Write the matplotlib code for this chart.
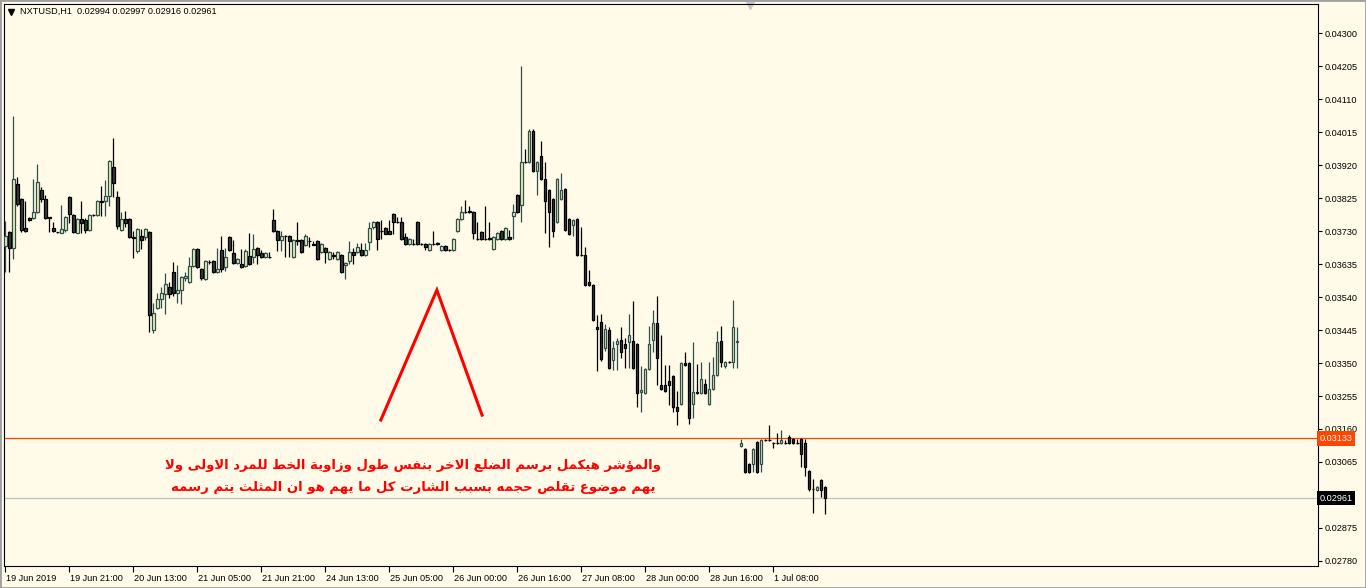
import numpy as np
import matplotlib
matplotlib.use("Agg")
import matplotlib.pyplot as plt
import matplotlib.transforms as mtransforms
from matplotlib.patches import Rectangle

# ---- data (prices in points, 1 point = 0.00001) ----
symbol = "NXTUSD,H1"

open_pts = [
    3687, 3727, 3681, 3865, 3822, 3739, 3767, 3767, 3785, 3848,
    3822, 3770, 3739, 3727, 3724, 3733, 3828, 3776, 3724, 3765,
    3762, 3733, 3776, 3776, 3816, 3816, 3831, 3914, 3828, 3733,
    3765, 3765, 3713, 3672, 3716, 3713, 3727, 3445, 3508, 3534,
    3549, 3569, 3612, 3552, 3560, 3595, 3583, 3629, 3678, 3621,
    3592, 3641, 3644, 3612, 3675, 3626, 3713, 3667, 3638, 3635,
    3629, 3658, 3655, 3681, 3667, 3655, 3656, 3762, 3730, 3704,
    3716, 3716, 3655, 3704, 3704, 3690, 3701, 3693, 3701, 3670,
    3681, 3649, 3661, 3649, 3661, 3632, 3644, 3670, 3670, 3675,
    3661, 3698, 3742, 3756, 3730, 3739, 3730, 3779, 3756, 3756,
    3713, 3693, 3693, 3756, 3693, 3693, 3675, 3693, 3695, 3675,
    3687, 3675, 3675, 3730, 3765, 3785, 3788, 3785, 3707, 3727,
    3707, 3710, 3678, 3707, 3730, 3707, 3713, 3773, 3834, 3805,
    3929, 3929, 4018, 3903, 3946, 3880, 3848, 3822, 3756, 3822,
    3851, 3765, 3747, 3765, 3661, 3661, 3583, 3575, 3454, 3468,
    3393, 3445, 3359, 3405, 3416, 3405, 3410, 3413, 3405, 3267,
    3264, 3333, 3416, 3465, 3287, 3287, 3298, 3313, 3223, 3232,
    3350, 3350, 3232, 3267, 3264, 3290, 3232, 3275, 3315, 3413,
    3341, 3353, 3353, 3410, 3111, 3102, 3059, 3059, 3123, 3059,
    3128, 3128, 3120, 3120, 3120, 3120, 3137, 3131, 3120, 3131,
    3120, 3039, 2988, 2984, 3013, 2994,
]
high_pts = [
    3759, 3730, 4061, 3885, 3825, 3816, 3770, 3880, 3923, 3857,
    3834, 3770, 3756, 3727, 3805, 3773, 3831, 3779, 3767, 3816,
    3767, 3779, 3779, 3819, 3860, 3877, 3934, 3998, 3845, 3785,
    3788, 3767, 3730, 3739, 3736, 3739, 3730, 3523, 3552, 3569,
    3609, 3583, 3641, 3632, 3600, 3612, 3655, 3681, 3681, 3624,
    3647, 3647, 3647, 3681, 3716, 3681, 3716, 3704, 3652, 3678,
    3678, 3724, 3721, 3684, 3675, 3670, 3670, 3793, 3733, 3730,
    3718, 3718, 3707, 3756, 3707, 3721, 3713, 3701, 3704, 3695,
    3684, 3672, 3670, 3672, 3664, 3641, 3701, 3681, 3695, 3695,
    3695, 3756, 3759, 3759, 3762, 3742, 3762, 3782, 3770, 3770,
    3724, 3710, 3707, 3759, 3695, 3695, 3695, 3730, 3698, 3690,
    3690, 3678, 3710, 3767, 3802, 3819, 3802, 3788, 3756, 3730,
    3802, 3756, 3716, 3727, 3733, 3742, 3733, 3808, 3837, 4205,
    3966, 4024, 4024, 3932, 3989, 3929, 3851, 3825, 3883, 3897,
    3854, 3767, 3765, 3767, 3742, 3684, 3618, 3577, 3488, 3491,
    3462, 3454, 3413, 3422, 3454, 3422, 3491, 3528, 3408, 3341,
    3336, 3456, 3503, 3543, 3431, 3344, 3344, 3315, 3269, 3353,
    3382, 3353, 3410, 3347, 3353, 3304, 3353, 3367, 3442, 3456,
    3356, 3356, 3531, 3454, 3131, 3105, 3062, 3105, 3125, 3131,
    3131, 3172, 3123, 3148, 3157, 3128, 3143, 3134, 3131, 3134,
    3131, 3042, 3016, 2996, 3016, 2997,
]
low_pts = [
    3612, 3612, 3649, 3802, 3727, 3727, 3759, 3765, 3782, 3813,
    3765, 3727, 3727, 3724, 3724, 3727, 3753, 3724, 3724, 3724,
    3724, 3730, 3773, 3773, 3773, 3773, 3802, 3828, 3736, 3730,
    3742, 3710, 3652, 3667, 3678, 3704, 3439, 3436, 3505, 3508,
    3491, 3537, 3543, 3523, 3520, 3586, 3580, 3626, 3624, 3589,
    3589, 3635, 3609, 3609, 3612, 3615, 3672, 3635, 3635, 3624,
    3626, 3632, 3638, 3635, 3652, 3652, 3652, 3727, 3672, 3672,
    3655, 3655, 3652, 3690, 3667, 3687, 3684, 3690, 3647, 3667,
    3638, 3647, 3649, 3647, 3609, 3592, 3635, 3635, 3667, 3658,
    3658, 3675, 3736, 3675, 3707, 3721, 3721, 3721, 3753, 3704,
    3690, 3690, 3690, 3690, 3690, 3675, 3672, 3690, 3690, 3672,
    3672, 3672, 3672, 3727, 3762, 3782, 3782, 3707, 3704, 3704,
    3704, 3704, 3675, 3704, 3704, 3704, 3704, 3707, 3782, 3756,
    3926, 3926, 3900, 3834, 3877, 3724, 3684, 3713, 3753, 3819,
    3730, 3718, 3716, 3658, 3658, 3572, 3572, 3471, 3327, 3356,
    3385, 3333, 3330, 3330, 3364, 3336, 3336, 3333, 3223, 3209,
    3261, 3330, 3382, 3287, 3272, 3267, 3229, 3209, 3172, 3229,
    3341, 3174, 3192, 3261, 3261, 3261, 3229, 3272, 3313, 3338,
    3336, 3350, 3336, 3336, 3108, 3033, 3033, 3036, 3033, 3036,
    3125, 3125, 3105, 3117, 3117, 3117, 3117, 3117, 3117, 3051,
    3025, 2982, 2918, 2982, 2964, 2916,
]
close_pts = [
    3716, 3681, 3880, 3808, 3733, 3730, 3762, 3785, 3871, 3822,
    3767, 3767, 3730, 3727, 3736, 3770, 3779, 3727, 3765, 3753,
    3733, 3776, 3776, 3816, 3813, 3831, 3932, 3868, 3744, 3765,
    3753, 3713, 3710, 3736, 3704, 3736, 3488, 3494, 3534, 3552,
    3577, 3549, 3552, 3560, 3598, 3600, 3629, 3678, 3626, 3595,
    3644, 3641, 3612, 3621, 3621, 3655, 3675, 3638, 3649, 3626,
    3672, 3635, 3678, 3661, 3655, 3667, 3654, 3730, 3704, 3716,
    3716, 3701, 3704, 3701, 3670, 3716, 3701, 3690, 3649, 3693,
    3670, 3670, 3658, 3670, 3612, 3638, 3670, 3661, 3684, 3661,
    3675, 3739, 3756, 3707, 3730, 3721, 3721, 3756, 3756, 3707,
    3693, 3707, 3693, 3693, 3693, 3684, 3693, 3693, 3693, 3687,
    3675, 3675, 3707, 3765, 3785, 3785, 3785, 3724, 3707, 3707,
    3707, 3707, 3713, 3724, 3707, 3739, 3707, 3785, 3785, 3929,
    3929, 4018, 3903, 3929, 3880, 3816, 3785, 3730, 3880, 3848,
    3733, 3721, 3762, 3661, 3661, 3575, 3575, 3474, 3448, 3362,
    3448, 3336, 3393, 3413, 3382, 3393, 3431, 3336, 3264, 3272,
    3333, 3405, 3465, 3364, 3275, 3269, 3287, 3223, 3212, 3350,
    3344, 3192, 3267, 3264, 3304, 3264, 3275, 3315, 3410, 3353,
    3353, 3353, 3454, 3413, 3120, 3036, 3036, 3102, 3036, 3128,
    3128, 3128, 3120, 3120, 3128, 3120, 3120, 3120, 3120, 3088,
    3051, 2987, 2986, 2993, 2984, 2961,
]

time_labels = ["19 Jun 2019", "19 Jun 21:00", "20 Jun 13:00", "21 Jun 05:00",
               "21 Jun 21:00", "24 Jun 13:00", "25 Jun 05:00", "26 Jun 00:00",
               "26 Jun 16:00", "27 Jun 08:00", "28 Jun 00:00", "28 Jun 16:00",
               "1 Jul 08:00"]
bars_per_label = 16

price_ticks = [0.02780, 0.02875, 0.02970, 0.03065, 0.03160, 0.03255, 0.03350,
               0.03445, 0.03540, 0.03635, 0.03730, 0.03825, 0.03920, 0.04015,
               0.04110, 0.04205, 0.04300]

hline_level = 0.03133

# hand-drawn red triangle (bar index, price)
tri_x = [93.9, 107.9, 119.2]
tri_y = [0.03186, 0.03560, 0.03200]

note_lines = [
    "والمؤشر هيكمل برسم الضلع الاخر بنفس طول وزاوية الخط للمرد الاولى ولا",
    "يهم موضوع تقلص حجمه بسبب الشارت كل ما يهم هو ان المثلث يتم رسمه",
]
note_x = 101.9
note_y = [0.03056, 0.02993]

# ---- colours ----
BG = "#fffbe8"
BULL_FILL = "#f2f2b4"
BULL_EDGE = "#2f4f4f"
BEAR_FILL = "#3a3a3a"
BEAR_EDGE = "#000000"
ORANGE = "#ff4500"
AXFONT = "Liberation Sans"


# simple arabic shaping (presentation forms) + reversal for LTR drawing
DUAL = {"ب": 0xFE8F, "ت": 0xFE95, "ث": 0xFE99, "ج": 0xFE9D, "ح": 0xFEA1,
        "خ": 0xFEA5, "س": 0xFEB1, "ش": 0xFEB5, "ص": 0xFEB9, "ض": 0xFEBD,
        "ط": 0xFEC1, "ظ": 0xFEC5, "ع": 0xFEC9, "غ": 0xFECD, "ف": 0xFED1,
        "ق": 0xFED5, "ك": 0xFED9, "ل": 0xFEDD, "م": 0xFEE1, "ن": 0xFEE5,
        "ه": 0xFEE9, "ي": 0xFEF1}
RIGHT = {"ا": 0xFE8D, "أ": 0xFE83, "ؤ": 0xFE85, "ة": 0xFE93, "د": 0xFEA9,
         "ذ": 0xFEAB, "ر": 0xFEAD, "ز": 0xFEAF, "و": 0xFEED, "ى": 0xFEEF,
         "\ufefb": 0xFEFB}


def shape(line):
    words = []
    for word in line.split(" "):
        chars = list(word.replace("لا", "\ufefb"))
        res = []
        for k, ch in enumerate(chars):
            prev = chars[k - 1] if k > 0 else None
            nxt = chars[k + 1] if k + 1 < len(chars) else None
            jp = prev in DUAL and (ch in DUAL or ch in RIGHT)
            jn = ch in DUAL and nxt is not None and (nxt in DUAL or nxt in RIGHT)
            if ch in DUAL:
                off = 3 if (jp and jn) else 1 if jp else 2 if jn else 0
                res.append(chr(DUAL[ch] + off))
            elif ch in RIGHT:
                res.append(chr(RIGHT[ch] + (1 if jp else 0)))
            else:
                res.append(ch)
        words.append("".join(res))
    return " ".join(words)[::-1]


o = np.array(open_pts) / 1e5
h = np.array(high_pts) / 1e5
l = np.array(low_pts) / 1e5
c = np.array(close_pts) / 1e5
x = np.arange(len(o))

W, H = 1366, 588
fig = plt.figure(figsize=(W / 100, H / 100), dpi=100, facecolor=BG)
ax = fig.add_axes([4 / W, 1 - 566 / H, (1318 - 4) / W, (566 - 4) / H])
ax.set_facecolor(BG)

up = c > o
down = c < o
flat = c == o

# wicks
ax.vlines(x[up], l[up], h[up], color=BULL_EDGE, lw=0.9, zorder=2)
ax.vlines(x[~up], l[~up], h[~up], color=BEAR_EDGE, lw=0.9, zorder=2)
# bodies
bw = 0.62
ax.bar(x[up], c[up] - o[up], bottom=o[up], width=bw, color=BULL_FILL,
       edgecolor=BULL_EDGE, lw=0.9, zorder=3)
ax.bar(x[down], o[down] - c[down], bottom=c[down], width=bw, color=BEAR_FILL,
       edgecolor=BEAR_EDGE, lw=0.9, zorder=3)
ax.hlines(c[flat], x[flat] - bw / 2 - 0.1, x[flat] + bw / 2 + 0.1,
          color=BEAR_EDGE, lw=0.9, zorder=3)

# horizontal lines
ax.axhline(hline_level, color=ORANGE, lw=0.9, zorder=1)
ax.axhline(c[-1], color="#c0c0c0", lw=0.9, zorder=1)

# red triangle drawing
ax.plot(tri_x, tri_y, color="#ff0000", lw=2.2, solid_joinstyle="miter", zorder=4)

# note text
for txt, yy in zip(note_lines, note_y):
    ax.text(note_x, yy, shape(txt), ha="center", va="center", color="#ff0000",
            fontsize=9.5, fontweight="bold", family="DejaVu Sans", zorder=5)

# axes limits / frame
ax.set_xlim(-0.325, 328.2)
ax.set_ylim(0.027656, 0.043835)
for s in ax.spines.values():
    s.set_color("black")
    s.set_linewidth(0.8)

# the 0.02970 label sits under the bid price box, so leave it blank
ax.yaxis.tick_right()
ax.set_yticks(price_ticks)
ylabels = [f"{v:.5f}" if abs(v - c[-1]) > 0.0002 else "" for v in price_ticks]
ax.set_yticklabels(ylabels, family=AXFONT, fontsize=6.6)
ax.tick_params(axis="y", direction="out", length=3, width=0.8, pad=2)

xt = np.arange(len(time_labels)) * bars_per_label
ax.set_xticks(xt)
ax.set_xticklabels(time_labels, family=AXFONT, fontsize=6.6, ha="left")
ax.tick_params(axis="x", direction="out", length=4, width=0.8, pad=2)
shift = mtransforms.ScaledTranslation(1 / 100, 0, fig.dpi_scale_trans)
for lab in ax.get_xticklabels():
    lab.set_transform(lab.get_transform() + shift)

# price labels on the right axis
yblend = mtransforms.blended_transform_factory(ax.transAxes, ax.transData)
ax.text(1.0012, hline_level, f"{hline_level:.5f}", transform=yblend, ha="left",
        va="center", color="white", family=AXFONT, fontsize=6.6, zorder=6,
        clip_on=False, bbox=dict(boxstyle="square,pad=0.3", fc=ORANGE, ec="none"))
ax.text(1.0012, c[-1], f"{c[-1]:.5f}", transform=yblend, ha="left",
        va="center", color="white", family=AXFONT, fontsize=6.6, zorder=6,
        clip_on=False, bbox=dict(boxstyle="square,pad=0.3", fc="black", ec="none"))

# header
ax.plot([0.0055], [0.9865], marker="v", color="black", ms=4,
        transform=ax.transAxes, clip_on=False)
ax.text(0.0125, 0.9865,
        f"{symbol}  {o[-1]:.5f} {h[-1]:.5f} {l[-1]:.5f} {c[-1]:.5f}",
        transform=ax.transAxes, ha="left", va="center", family=AXFONT,
        fontsize=6.6, color="black")
# chart shift marker
ax.plot([0.5677], [0.998], marker="v", color="#c8c8c8", ms=6,
        transform=ax.transAxes, clip_on=False)

# window border
fig.patches.append(Rectangle((0, 0), 1, 1, transform=fig.transFigure,
                             fill=False, edgecolor="#a0a0a0", lw=2))

fig.savefig("out.png", dpi=100, facecolor=BG)
